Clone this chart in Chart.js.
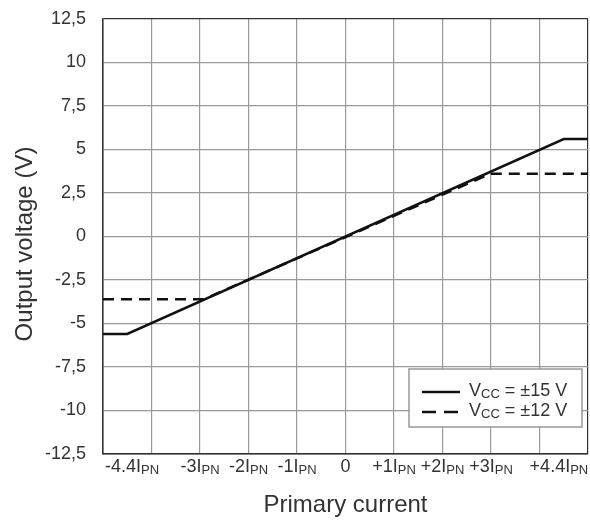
<!DOCTYPE html>
<html>
<head>
<meta charset="utf-8">
<script src="https://cdn.jsdelivr.net/npm/chart.js@4"></script>
<style>
  html, body { margin: 0; padding: 0; background: #fff; }
</style>
</head>
<body>
<canvas id="chart" width="590" height="520"></canvas>
<script>
// primary current in multiples of I_PN, output voltage in V
const current15 = [-5, -4.5, 4.5, 5];
const volt15 = [-5.6, -5.6, 5.6, 5.6];
const current12 = [-5, -2.92, 2.98, 5];
const volt12 = [-3.6, -3.6, 3.6, 3.6];

const seriesNames = ["\u00b115 V", "\u00b112 V"];

const xTickValues = [-4.4, -3, -2, -1, 0, 1, 2, 3, 4.4];
const xTickLabels = ["-4.4", "-3", "-2", "-1", "0", "+1", "+2", "+3", "+4.4"];
const xGridValues = [-5, -4, -3, -2, -1, 0, 1, 2, 3, 4, 5];

const FONT = "'Liberation Sans', Arial, sans-serif";
const TEXT = "#333";

function pts(xs, ys) {
  return xs.map((x, i) => ({ x: x, y: ys[i] }));
}

// draw "main" + subscript, returns width
function subText(ctx, main, sub, x, y, size, subSize, measureOnly) {
  ctx.font = size + "px " + FONT;
  const w1 = ctx.measureText(main).width;
  ctx.font = subSize + "px " + FONT;
  const w2 = sub ? ctx.measureText(sub).width : 0;
  if (!measureOnly) {
    ctx.font = size + "px " + FONT;
    ctx.fillText(main, x, y);
    if (sub) {
      ctx.font = subSize + "px " + FONT;
      ctx.fillText(sub, x + w1, y + 2);
    }
  }
  return w1 + w2;
}

const extras = {
  id: "extras",
  afterDraw(chart) {
    const ctx = chart.ctx;
    const xs = chart.scales.x;
    const area = chart.chartArea;
    ctx.save();
    ctx.fillStyle = TEXT;
    ctx.textAlign = "left";
    ctx.textBaseline = "alphabetic";

    // x tick labels with I_PN
    xTickValues.forEach((v, i) => {
      const main = xTickLabels[i] + (v === 0 ? "" : "I");
      const sub = v === 0 ? "" : "PN";
      const w = subText(ctx, main, sub, 0, 0, 18, 13, true);
      const px = xs.getPixelForValue(v);
      subText(ctx, main, sub, px - w / 2, 472, 18, 13, false);
    });

    // axis titles
    ctx.font = "24px " + FONT;
    ctx.textAlign = "center";
    ctx.fillText("Primary current", (area.left + area.right) / 2, 512);
    ctx.save();
    ctx.translate(32, 244);
    ctx.rotate(-Math.PI / 2);
    ctx.fillText("Output voltage (V)", 0, 0);
    ctx.restore();

    // legend
    ctx.textAlign = "left";
    ctx.fillStyle = "#fff";
    ctx.fillRect(409, 369, 173, 58);
    ctx.strokeStyle = "#999";
    ctx.lineWidth = 1.5;
    ctx.strokeRect(409, 369, 173, 58);
    chart.data.datasets.forEach((ds, i) => {
      const y = 392 + i * 20;
      ctx.strokeStyle = ds.borderColor;
      ctx.lineWidth = 2.5;
      ctx.setLineDash(i === 0 ? [] : [14, 8]);
      ctx.beginPath();
      ctx.moveTo(422, y);
      ctx.lineTo(460, y);
      ctx.stroke();
      ctx.setLineDash([]);
      ctx.fillStyle = TEXT;
      const w = subText(ctx, "V", "CC", 469, y + 4, 18, 13, false);
      ctx.font = "18px " + FONT;
      ctx.fillText(" = " + seriesNames[i], 469 + w, y + 4);
    });
    ctx.restore();
  }
};

function edgeColor(scale, ctx) {
  const v = ctx.tick ? ctx.tick.value : null;
  return (v === scale.min || v === scale.max) ? "#333" : "#999";
}

new Chart(document.getElementById("chart"), {
  type: "line",
  data: {
    datasets: [
      {
        label: "VCC = " + seriesNames[0],
        data: pts(current15, volt15),
        borderColor: "#111",
        borderWidth: 2.5,
        pointRadius: 0,
        tension: 0
      },
      {
        label: "VCC = " + seriesNames[1],
        data: pts(current12, volt12),
        borderColor: "#111",
        borderWidth: 2.5,
        borderDash: [11, 7],
        pointRadius: 0,
        tension: 0
      }
    ]
  },
  options: {
    responsive: false,
    animation: false,
    layout: { padding: { left: 0, right: 2, top: 19, bottom: 0 } },
    plugins: { legend: { display: false }, tooltip: { enabled: false } },
    scales: {
      x: {
        type: "linear",
        min: -5,
        max: 5,
        afterBuildTicks(scale) {
          scale.ticks = xGridValues.map(v => ({ value: v }));
        },
        afterFit(scale) { scale.height = 66; },
        ticks: { display: false },
        grid: {
          drawTicks: false,
          color: ctx => edgeColor({ min: -5, max: 5 }, ctx),
          lineWidth: 1.2
        },
        border: { color: "#333", width: 1.5 }
      },
      y: {
        min: -12.5,
        max: 12.5,
        afterFit(scale) {
          scale.width = 103;
          scale.paddingTop = 0;
          scale.paddingBottom = 0;
        },
        ticks: {
          stepSize: 2.5,
          padding: 17,
          color: TEXT,
          font: { family: FONT, size: 18 },
          callback: v => String(v).replace(".", ",")
        },
        grid: {
          drawTicks: false,
          color: ctx => edgeColor({ min: -12.5, max: 12.5 }, ctx),
          lineWidth: 1.2
        },
        border: { color: "#333", width: 1.5 }
      }
    }
  },
  plugins: [extras]
});
</script>
</body>
</html>
